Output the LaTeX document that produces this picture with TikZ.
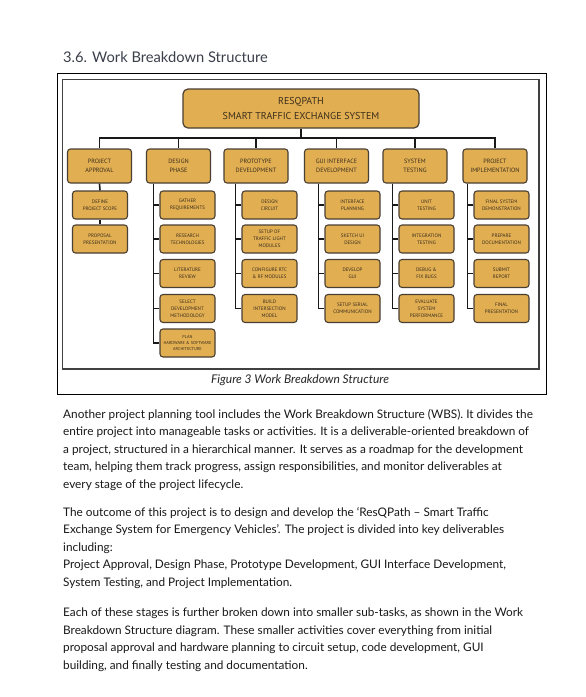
\documentclass[tikz,border=0pt]{standalone}
\usepackage{fontspec}
\setmainfont{Lato}
\newfontfamily\wbsfont{PT Sans}
\usepackage{xcolor}
\usepackage{tikz}

\definecolor{wbsfill}{HTML}{E1AE52}
\definecolor{wbsedge}{HTML}{4A3F33}
\definecolor{wbstext}{HTML}{3B2E1C}
\definecolor{headgray}{HTML}{3A3F4A}

\begin{document}
\begin{tikzpicture}[
  x=1pt, y=-1pt,
  link/.style={draw=black!90, line width=1.6pt},
  rootbox/.style={
    rectangle, rounded corners=5pt, draw=wbsedge, fill=wbsfill,
    line width=1.2pt, minimum width=236pt, minimum height=39pt,
    align=center, text=wbstext, inner sep=1pt,
    font=\wbsfont\fontsize{10}{15.5}\selectfont,
  },
  ph/.style={rectangle, rounded corners=3pt, draw=wbsedge, fill=wbsfill,
             line width=1.1pt, minimum width=64pt, minimum height=34pt,
             align=center, text=wbstext, inner sep=1pt,
             font=\wbsfont\fontsize{6.2}{8.5}\selectfont},
  tk/.style={rectangle, rounded corners=3pt, draw=wbsedge, fill=wbsfill,
             line width=1.1pt, minimum width=55pt, minimum height=28pt,
             align=center, text=wbstext, inner sep=1pt,
             font=\wbsfont\fontsize{5}{7}\selectfont},
  para/.style={anchor=base west, align=left, inner sep=0pt,
               text=black!90, font=\fontsize{11.8}{17.5}\selectfont},
]
  \useasboundingbox (0,0) rectangle (586,697);
  \fill[white] (0,0) rectangle (586,697);

  % heading
  \node[anchor=base west, inner sep=0pt, text=headgray,
        font=\fontsize{14.7}{18}\selectfont] (title) at (63,62) {3.6. Work Breakdown Structure};

  % figure frame
  \draw[line width=0.9pt] (57,73) rectangle (546,394);
  \draw[line width=0.8pt, draw=black!75] (62,79) rectangle (539,369);
  \draw[line width=1.8pt, draw=black!75] (62,369) -- (539,369) -- (539,79);

  % ROOT
  \node[rootbox] (root) at (301,108.5) {RESQPATH\\SMART TRAFFIC EXCHANGE SYSTEM};
  \coordinate (bus) at (301,138);

  % PHASES
  \node[ph] (pa)  at (99.5,166)  {PROJECT\\APPROVAL};
  \node[ph] (dp)  at (178.5,166) {DESIGN\\PHASE};
  \node[ph] (pd)  at (256,166)   {PROTOTYPE\\DEVELOPMENT};
  \node[ph] (gui) at (336.5,166) {GUI INTERFACE\\DEVELOPMENT};
  \node[ph] (st)  at (415,166)   {SYSTEM\\TESTING};
  \node[ph] (pi)  at (495,166)   {PROJECT\\IMPLEMENTATION};

  % PROJECT APPROVAL tasks
  \node[tk] (pa1) at (100,205) {DEFINE\\PROJECT SCOPE};
  \node[tk] (pa2) at (100,239) {PROPOSAL\\PRESENTATION};
  % DESIGN PHASE tasks
  \node[tk] (dp1) at (187.5,205)   {GATHER\\REQUIREMENTS};
  \node[tk] (dp2) at (187.5,239)   {RESEARCH\\TECHNOLOGIES};
  \node[tk] (dp3) at (187.5,273.5) {LITERATURE\\REVIEW};
  \node[tk] (dp4) at (187.5,308.5) {SELECT\\DEVELOPMENT\\METHODOLOGY};
  \node[tk, font=\wbsfont\fontsize{4.3}{6}\selectfont] (dp5) at (187.5,343) {PLAN\\HARDWARE \& SOFTWARE\\ARCHITECTURE};
  % PROTOTYPE DEVELOPMENT tasks
  \node[tk] (pd1) at (269.5,205)   {DESIGN\\CIRCUIT};
  \node[tk] (pd2) at (269.5,239)   {SETUP OF\\TRAFFIC LIGHT\\MODULES};
  \node[tk] (pd3) at (269.5,273.5) {CONFIGURE RTC\\\& RF MODULES};
  \node[tk] (pd4) at (269.5,308.5) {BUILD\\INTERSECTION\\MODEL};
  % GUI INTERFACE DEVELOPMENT tasks
  \node[tk] (gui1) at (352.5,205)   {INTERFACE\\PLANNING};
  \node[tk] (gui2) at (352.5,239)   {SKETCH UI\\DESIGN};
  \node[tk] (gui3) at (352.5,273.5) {DEVELOP\\GUI};
  \node[tk] (gui4) at (352.5,308.5) {SETUP SERIAL\\COMMUNICATION};
  % SYSTEM TESTING tasks
  \node[tk] (st1) at (426.5,205)   {UNIT\\TESTING};
  \node[tk] (st2) at (426.5,239)   {INTEGRATION\\TESTING};
  \node[tk] (st3) at (426.5,273.5) {DEBUG \&\\FIX BUGS};
  \node[tk] (st4) at (426.5,308.5) {EVALUATE\\SYSTEM\\PERFORMANCE};
  % PROJECT IMPLEMENTATION tasks
  \node[tk] (pi1) at (501.5,205)   {FINAL SYSTEM\\DEMONSTRATION};
  \node[tk] (pi2) at (501.5,239)   {PREPARE\\DOCUMENTATION};
  \node[tk] (pi3) at (501.5,273.5) {SUBMIT\\REPORT};
  \node[tk] (pi4) at (501.5,308.5) {FINAL\\PRESENTATION};

  % root to phases
  \draw[link] (root.south) -- (bus);
  \draw[link] (bus) -| (pa.north);
  \draw[link] (bus) -| (dp.north);
  \draw[link] (bus) -| (pd.north);
  \draw[link] (bus) -| (gui.north);
  \draw[link] (bus) -| (st.north);
  \draw[link] (bus) -| (pi.north);

  % phase to tasks
  \draw[link] (pa.south) -- (pa1.north);
  \draw[link] (pa1.south) -- (pa2.north);
  \coordinate (dp-bus)  at ([xshift=-6pt]dp1.west |- dp.south);
  \coordinate (pd-bus)  at ([xshift=-6pt]pd1.west |- pd.south);
  \coordinate (gui-bus) at ([xshift=-6pt]gui1.west |- gui.south);
  \coordinate (st-bus)  at ([xshift=-6pt]st1.west |- st.south);
  \coordinate (pi-bus)  at ([xshift=-6pt]pi1.west |- pi.south);
  \draw[link] (dp-bus) |- (dp1.west);
  \draw[link] (dp-bus) |- (dp2.west);
  \draw[link] (dp-bus) |- (dp3.west);
  \draw[link] (dp-bus) |- (dp4.west);
  \draw[link] (dp-bus) |- (dp5.west);
  \draw[link] (pd-bus) |- (pd1.west);
  \draw[link] (pd-bus) |- (pd2.west);
  \draw[link] (pd-bus) |- (pd3.west);
  \draw[link] (pd-bus) |- (pd4.west);
  \draw[link] (gui-bus) |- (gui1.west);
  \draw[link] (gui-bus) |- (gui2.west);
  \draw[link] (gui-bus) |- (gui3.west);
  \draw[link] (gui-bus) |- (gui4.west);
  \draw[link] (st-bus) |- (st1.west);
  \draw[link] (st-bus) |- (st2.west);
  \draw[link] (st-bus) |- (st3.west);
  \draw[link] (st-bus) |- (st4.west);
  \draw[link] (pi-bus) |- (pi1.west);
  \draw[link] (pi-bus) |- (pi2.west);
  \draw[link] (pi-bus) |- (pi3.west);
  \draw[link] (pi-bus) |- (pi4.west);

  % caption
  \node[inner sep=0pt, text=black!85, font=\itshape\fontsize{12}{14}\selectfont] (caption) at (300,380) {Figure 3 Work Breakdown Structure};

  % body text (anchored at the baseline of the last line)
  \node[para] (p1) at (63,488) {Another project planning tool includes the Work Breakdown Structure (WBS). It divides the\\entire project into manageable tasks or activities. It is a deliverable-oriented breakdown of\\a project, structured in a hierarchical manner. It serves as a roadmap for the development\\team, helping them track progress, assign responsibilities, and monitor deliverables at\\every stage of the project lifecycle.};
  \node[para] (p2) at (63,586) {The outcome of this project is to design and develop the ‘ResQPath – Smart Traffic\\Exchange System for Emergency Vehicles’. The project is divided into key deliverables\\including:\\Project Approval, Design Phase, Prototype Development, GUI Interface Development,\\System Testing, and Project Implementation.};
  \node[para] (p3) at (63,669) {Each of these stages is further broken down into smaller sub-tasks, as shown in the Work\\Breakdown Structure diagram. These smaller activities cover everything from initial\\proposal approval and hardware planning to circuit setup, code development, GUI\\building, and finally testing and documentation.};
\end{tikzpicture}
\end{document}
